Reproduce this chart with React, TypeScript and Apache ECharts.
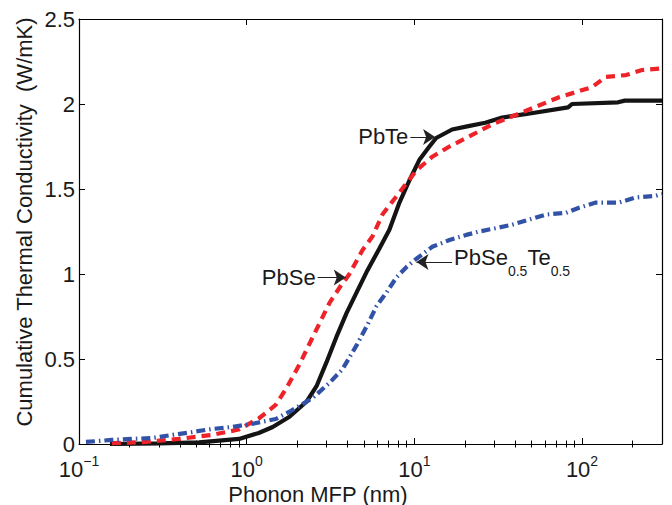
import React, { useEffect, useRef } from 'react';
import * as echarts from 'echarts';

// Phonon mean free path (nm) and cumulative thermal conductivity (W/mK)
const pbteX = [0.153, 0.30, 0.52, 0.90, 1.18, 1.43, 1.80, 2.28, 2.61, 2.99, 3.43, 3.94, 4.52, 5.18, 6.19, 7.10, 8.15, 9.34, 10.7, 12.3, 13.5, 16.8, 21, 26.5, 33.4, 45.8, 82.6, 87.2, 164, 180, 300];
const pbteY = [0.0, 0.004, 0.010, 0.030, 0.065, 0.10, 0.16, 0.25, 0.34, 0.48, 0.63, 0.77, 0.89, 1.01, 1.15, 1.26, 1.42, 1.55, 1.67, 1.75, 1.80, 1.85, 1.87, 1.89, 1.92, 1.94, 1.98, 2.00, 2.01, 2.02, 2.02];

const pbseX = [0.157, 0.251, 0.394, 0.619, 0.896, 1.18, 1.49, 1.73, 2.07, 2.37, 2.72, 3.12, 3.58, 4.10, 4.90, 5.62, 6.45, 8.15, 10.3, 12.8, 16.2, 20.4, 29.1, 46.4, 73.0, 92.1, 115, 139, 183, 228, 300];
const pbseY = [0.005, 0.012, 0.03, 0.053, 0.085, 0.15, 0.23, 0.33, 0.47, 0.59, 0.71, 0.83, 0.92, 1.00, 1.14, 1.22, 1.35, 1.48, 1.61, 1.69, 1.75, 1.80, 1.88, 1.96, 2.04, 2.07, 2.10, 2.16, 2.17, 2.20, 2.21];

const alloyX = [0.110, 0.157, 0.207, 0.272, 0.358, 0.471, 0.619, 0.815, 1.07, 1.49, 1.80, 2.47, 3.12, 3.73, 4.52, 5.25, 5.94, 6.81, 7.82, 8.96, 10.3, 12.8, 16.2, 20.4, 24.4, 30.8, 38.3, 48.4, 61.1, 80.4, 96.0, 121, 166, 209, 276, 300];
const alloyY = [0.012, 0.024, 0.03, 0.035, 0.053, 0.07, 0.088, 0.10, 0.118, 0.147, 0.19, 0.27, 0.36, 0.44, 0.58, 0.70, 0.81, 0.89, 0.98, 1.04, 1.09, 1.16, 1.20, 1.23, 1.25, 1.27, 1.29, 1.32, 1.35, 1.36, 1.39, 1.42, 1.42, 1.45, 1.46, 1.47];

const xMajorTicks = [0.1, 1, 10, 100];
const xMinorTicks = [0.2, 0.3, 0.4, 0.5, 0.6, 0.7, 0.8, 0.9, 2, 3, 4, 5, 6, 7, 8, 9, 20, 30, 40, 50, 60, 70, 80, 90, 200];

// annotation arrows: [startX, endX, y]
const pbteArrow = [9.47, 13.3, 1.806];
const pbseArrow = [2.65, 3.9, 0.98];
const alloyArrow = [16.8, 10.3, 1.07];

const FONT = 'Liberation Sans, Arial, Helvetica, sans-serif';
const TXT = '#1a1a1a';

function pairs(xs: number[], ys: number[]) {
  return xs.map((x, i) => [x, ys[i]]);
}

function arrow(a: number[], text: () => string, rich?: any) {
  return {
    silent: true,
    animation: false,
    symbol: ['none', 'arrow'],
    symbolSize: 12,
    lineStyle: { color: '#222', width: 1, type: 'solid' },
    label: {
      show: true,
      position: 'start',
      distance: 2,
      formatter: text,
      color: TXT,
      fontSize: 22,
      fontFamily: FONT,
      rich,
    },
    emphasis: { disabled: true },
    data: [[{ coord: [a[0], a[2]] }, { coord: [a[1], a[2]] }]],
  };
}

export default function App() {
  const ref = useRef<HTMLDivElement>(null);
  useEffect(() => {
    if (!ref.current) return;
    const chart = echarts.init(ref.current, null, { renderer: 'svg' });
    const baseX = {
      type: 'log',
      logBase: 10,
      min: 0.1,
      max: 300,
      splitLine: { show: false },
      minorTick: { show: false },
      minorSplitLine: { show: false },
    };
    const axisLine = { show: true, onZero: false, lineStyle: { color: '#000', width: 1.2 } };
    const xLabel = {
      customValues: xMajorTicks,
      margin: 10,
      formatter: (v: number) => {
        const e = Math.round(Math.log10(v));
        const es = e < 0 ? '\u2212' + -e : String(e);
        return `{b|10}{e|${es}}`;
      },
      rich: {
        b: { fontSize: 22, lineHeight: 26, verticalAlign: 'bottom', color: TXT, fontFamily: FONT },
        e: { fontSize: 14, lineHeight: 14, verticalAlign: 'top', color: TXT, fontFamily: FONT },
      },
    };
    const option: any = {
      animation: false,
      backgroundColor: '#fff',
      grid: { left: 79, top: 19, right: 10, bottom: 61, containLabel: false, outerBoundsMode: 'none' },
      xAxis: [
        {
          ...baseX,
          position: 'bottom',
          axisLine,
          axisTick: { show: true, inside: true, length: 6, customValues: xMajorTicks, lineStyle: { color: '#000' } },
          axisLabel: xLabel,
        },
        {
          ...baseX,
          position: 'bottom',
          axisLine: { show: false },
          axisTick: { show: true, inside: true, length: 3.5, customValues: xMinorTicks, lineStyle: { color: '#000' } },
          axisLabel: { show: false },
        },
        {
          ...baseX,
          position: 'top',
          axisLine,
          axisTick: { show: true, inside: true, length: 6, customValues: xMajorTicks, lineStyle: { color: '#000' } },
          axisLabel: { show: false },
        },
        {
          ...baseX,
          position: 'top',
          axisLine: { show: false },
          axisTick: { show: true, inside: true, length: 3.5, customValues: xMinorTicks, lineStyle: { color: '#000' } },
          axisLabel: { show: false },
        },
      ],
      yAxis: [
        {
          type: 'value',
          min: 0,
          max: 2.5,
          interval: 0.5,
          position: 'left',
          axisLine,
          axisTick: { show: true, inside: true, length: 6, lineStyle: { color: '#000' } },
          axisLabel: { color: TXT, fontSize: 22, fontFamily: FONT, margin: 4 },
          splitLine: { show: false },
        },
        {
          type: 'value',
          min: 0,
          max: 2.5,
          interval: 0.5,
          position: 'right',
          axisLine,
          axisTick: { show: true, inside: true, length: 6, lineStyle: { color: '#000' } },
          axisLabel: { show: false },
          splitLine: { show: false },
        },
      ],
      graphic: [
        {
          type: 'text',
          x: 318,
          y: 494,
          style: { text: 'Phonon MFP (nm)', fontSize: 22, fontFamily: FONT, fill: TXT, align: 'center', verticalAlign: 'middle' },
        },
        {
          type: 'text',
          x: 24,
          y: 222,
          rotation: Math.PI / 2,
          style: { text: 'Cumulative Thermal Conductivity  (W/mK)', fontSize: 22, fontFamily: FONT, fill: TXT, align: 'center', verticalAlign: 'middle' },
        },
      ],
      series: [
        {
          name: 'PbTe',
          type: 'line',
          data: pairs(pbteX, pbteY),
          showSymbol: false,
          symbol: 'none',
          lineStyle: { color: '#141414', width: 4.2 },
          markLine: arrow(pbteArrow, () => 'PbTe'),
        },
        {
          name: 'PbSe',
          type: 'line',
          data: pairs(pbseX, pbseY),
          showSymbol: false,
          symbol: 'none',
          lineStyle: { color: '#ee2229', width: 4.2, type: [9, 6] },
          markLine: arrow(pbseArrow, () => 'PbSe'),
        },
        {
          name: 'PbSe0.5Te0.5',
          type: 'line',
          data: pairs(alloyX, alloyY),
          showSymbol: false,
          symbol: 'none',
          lineStyle: { color: '#3252a8', width: 4.2, type: [9, 4, 1.5, 4] },
          markLine: arrow(alloyArrow, () => '{m|PbSe}{s|0.5}{m|Te}{s|0.5}', {
            m: { fontSize: 22, lineHeight: 31, verticalAlign: 'top', color: TXT, fontFamily: FONT },
            s: { fontSize: 14, lineHeight: 14, verticalAlign: 'bottom', color: TXT, fontFamily: FONT },
          }),
        },
      ],
    };
    chart.setOption(option);
    return () => chart.dispose();
  }, []);
  return <div ref={ref} style={{ position: 'fixed', left: 0, top: 0, width: 672, height: 505 }} />;
}
